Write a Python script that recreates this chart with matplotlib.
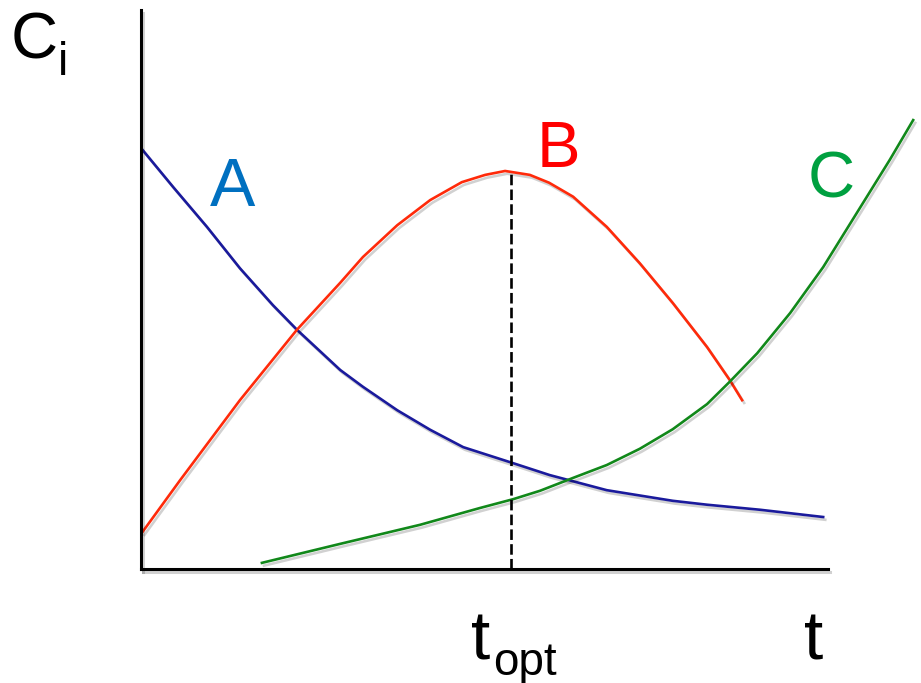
import matplotlib.pyplot as plt
import matplotlib.patheffects as pe

plt.rcParams['font.family'] = ['Liberation Sans', 'DejaVu Sans']

# curve samples (t, concentration)
tA = [0.00, 0.47, 0.96, 1.44, 1.92, 2.27, 2.90, 3.23, 3.73, 4.21, 4.69, 5.40,
      5.95, 6.78, 7.74, 8.24, 9.01, 9.93]
cA = [7.53, 6.83, 6.12, 5.38, 4.72, 4.28, 3.56, 3.26, 2.84, 2.49, 2.18, 1.90,
      1.68, 1.41, 1.22, 1.15, 1.06, 0.93]

tB = [0.02, 0.57, 1.44, 2.27, 2.90, 3.23, 3.73, 4.21, 4.67, 5.01, 5.30, 5.66,
      5.94, 6.29, 6.78, 7.26, 7.74, 8.24, 8.57, 8.75]
cB = [0.66, 1.59, 3.02, 4.28, 5.12, 5.58, 6.15, 6.60, 6.92, 7.05, 7.12, 7.05,
      6.91, 6.66, 6.12, 5.47, 4.76, 3.97, 3.38, 3.02]

tC = [1.76, 2.90, 4.06, 4.93, 5.42, 5.81, 6.29, 6.78, 7.26, 7.74, 8.24, 8.57,
      8.97, 9.45, 9.93, 10.42, 10.90, 11.24]
cC = [0.11, 0.45, 0.79, 1.09, 1.25, 1.40, 1.63, 1.86, 2.15, 2.50, 2.95, 3.35,
      3.86, 4.58, 5.40, 6.37, 7.32, 8.03]

t_opt = 5.39
cB_max = 7.12

shadow = [pe.SimpleLineShadow(offset=(1.5, -2), alpha=0.18), pe.Normal()]

fig = plt.figure(figsize=(9.21, 6.83), dpi=100)
ax = fig.add_axes([0.1531, 0.1669, 0.8469, 0.8185])
ax.set_xlim(0, 11.354)
ax.set_ylim(0, 10)

ax.plot(tA, cA, color='#1a1a9c', lw=1.9, path_effects=shadow)
ax.plot(tB, cB, color='#ff2a0a', lw=1.9, path_effects=shadow)
ax.plot(tC, cC, color='#11881a', lw=1.9, path_effects=shadow, clip_on=False)
ax.plot([t_opt, t_opt], [0, cB_max], color='black', lw=1.9, ls=(0, (4, 1.6)))

for s in ['top', 'right']:
    ax.spines[s].set_visible(False)
for s in ['left', 'bottom']:
    ax.spines[s].set_linewidth(2.2)
    ax.spines[s].set_path_effects(shadow)
ax.spines['bottom'].set_bounds(0, 10)
ax.set_xticks([])
ax.set_yticks([])

ax.text(1.0, 6.5, 'A', color='#0070c0', fontsize=49, ha='left', va='baseline')
ax.text(5.76, 7.2, 'B', color='#ff0000', fontsize=47, ha='left', va='baseline')
ax.text(9.71, 6.65, 'C', color='#00a040', fontsize=47, ha='left', va='baseline')

fig.text(0.011, 0.915, 'C', fontsize=47, ha='left', va='baseline')
fig.text(0.063, 0.89, 'i', fontsize=33, ha='left', va='baseline')
fig.text(0.511, 0.034, 't', fontsize=50, ha='left', va='baseline')
fig.text(0.535, 0.012, 'opt', fontsize=33, ha='left', va='baseline')
fig.text(0.873, 0.034, 't', fontsize=50, ha='left', va='baseline')

fig.savefig('out.png', dpi=100)
